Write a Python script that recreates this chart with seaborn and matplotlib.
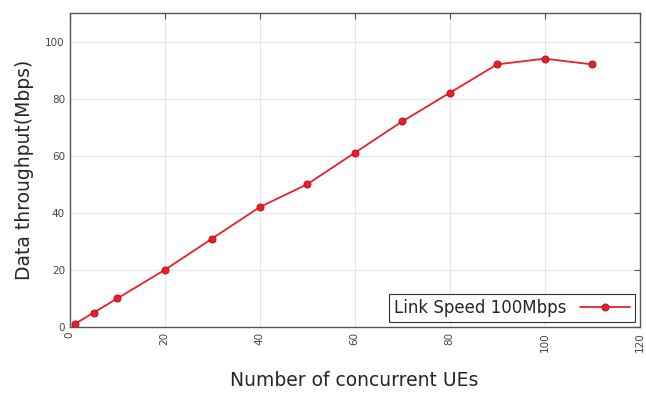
import matplotlib
matplotlib.use("Agg")
import matplotlib.pyplot as plt
import seaborn as sns
import pandas as pd

# Data
ues = [1, 5, 10, 20, 30, 40, 50, 60, 70, 80, 90, 100, 110]
throughput = [1, 5, 10, 20, 31, 42, 50, 61, 72, 82, 92, 94, 92]
x_ticks = [0, 20, 40, 60, 80, 100, 120]
y_ticks = [0, 20, 40, 60, 80, 100]

df = pd.DataFrame({"ues": ues, "throughput": throughput})

sns.set_style("white")
plt.rcParams['font.family'] = ['DejaVu Sans']

fig, ax = plt.subplots(figsize=(6.46, 3.94), dpi=100)
sns.lineplot(data=df, x="ues", y="throughput", ax=ax, color="#e8202a",
             marker="o", markersize=5, markeredgecolor="#c0101a",
             linewidth=1.3, label="Link Speed 100Mbps")

ax.set_xlim(0, 120)
ax.set_ylim(0, 110)
ax.set_xticks(x_ticks)
ax.set_yticks(y_ticks)
ax.set_xticklabels([str(t) for t in x_ticks], rotation=90, fontsize=7.5, color="#444444")
ax.tick_params(axis="y", labelsize=7.5, labelcolor="#444444")
ax.tick_params(direction="in", length=4, color="#555555", top=True, right=True)
ax.grid(True, color="#e6e6e6", linewidth=0.8)
for s in ax.spines.values():
    s.set_color("#555555")
    s.set_linewidth(1.0)

ax.set_xlabel("Number of concurrent UEs", fontsize=13.5, labelpad=14)
ax.set_ylabel("Data throughput(Mbps)", fontsize=13.5, labelpad=8)

leg = ax.legend(loc="lower right", markerfirst=False, fontsize=12,
                fancybox=False, framealpha=1, borderaxespad=0.3,
                handlelength=3, borderpad=0.3)
leg.get_frame().set_edgecolor("#333333")
leg.get_frame().set_linewidth(0.8)

plt.subplots_adjust(left=0.108, right=0.99, top=0.967, bottom=0.17)
plt.savefig("out.png")
